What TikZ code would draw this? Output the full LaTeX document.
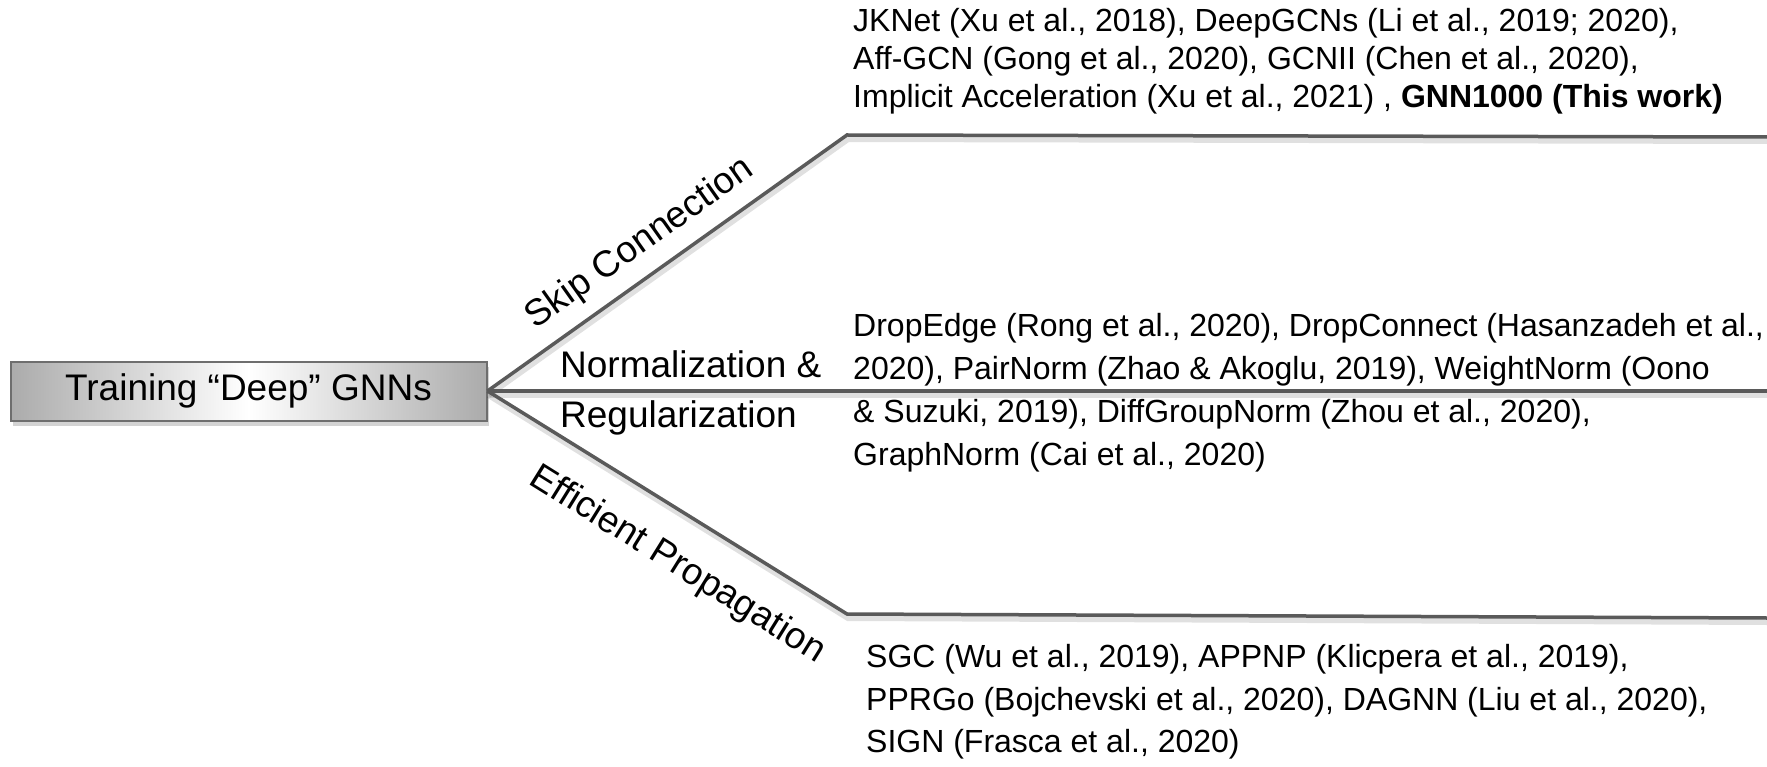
\documentclass[tikz,border=0pt]{standalone}
\usepackage{fontspec}
\setmainfont{Liberation Sans}
\usetikzlibrary{shadows}
\definecolor{branch}{HTML}{5A5A5A}
\definecolor{boxedge}{HTML}{6E6E6E}
\definecolor{boxside}{HTML}{ABABAB}
\begin{document}
\begin{tikzpicture}[x=1pt,y=-1pt,
  rootbox/.style={draw=boxedge, line width=2pt, minimum width=476pt, minimum height=59pt,
    inner sep=0pt, left color=boxside, right color=boxside, middle color=white,
    drop shadow={shadow xshift=2pt,shadow yshift=-5pt,opacity=0.35},
    font=\fontsize{37}{44}\selectfont},
  branchline/.style={draw=branch, line width=3.5pt, line join=miter},
  branchshadow/.style={draw=black, opacity=0.12, line width=6pt},
  catlabel/.style={font=\fontsize{37}{44}\selectfont, inner sep=0pt},
  citeline/.style={anchor=base west, inner sep=0pt, font=\fontsize{32}{38}\selectfont}
]
\useasboundingbox (0,0) rectangle (1767,767);

% root of the tree
\node[rootbox] (root) at (248.5,391) {Training “Deep” GNNs};

% bends and free ends of the three branches
\coordinate (skipbend) at (847,135);
\coordinate (skipend)  at (1767,137);
\coordinate (normend)  at (1767,391);
\coordinate (effbend)  at (847,614);
\coordinate (effend)   at (1767,618);

% soft shadows under the branches
\draw[branchshadow] ([shift={(1,4)}]root.east) -- ([shift={(1,4)}]skipbend) -- ([shift={(0,4)}]skipend);
\draw[branchshadow] ([shift={(1,4)}]root.east) -- ([shift={(0,4)}]normend);
\draw[branchshadow] ([shift={(1,4)}]root.east) -- ([shift={(1,4)}]effbend) -- ([shift={(0,4)}]effend);

% branches
\draw[branchline] (root.east) -- (skipbend) -- (skipend);
\draw[branchline] (root.east) -- (normend);
\draw[branchline] (root.east) -- (effbend) -- (effend);

% branch labels
\node[catlabel, rotate=35.3] (skiplbl) at (640,244) {Skip Connection};
\node[catlabel, anchor=base west] (normlbl) at (560,377) {Normalization \&};
\node[catlabel, anchor=base west] (reglbl) at (560,427) {Regularization};
\node[catlabel, rotate=-31.9] (efflbl) at (677,565) {Efficient Propagation};

% skip connection methods
\node[citeline] (skipa) at (853,32)  {JKNet (Xu et al., 2018), DeepGCNs (Li et al., 2019; 2020),};
\node[citeline] (skipb) at (853,70)  {Aff-GCN (Gong et al., 2020), GCNII (Chen et al., 2020),};
\node[citeline] (skipc) at (853,108) {Implicit Acceleration (Xu et al., 2021) , \textbf{GNN1000 (This work)}};

% normalization and regularization methods
\node[citeline] (norma) at (853,336) {DropEdge (Rong et al., 2020), DropConnect (Hasanzadeh et al.,};
\node[citeline] (normb) at (853,379) {2020), PairNorm (Zhao \& Akoglu, 2019), WeightNorm (Oono};
\node[citeline] (normc) at (853,422) {\& Suzuki, 2019), DiffGroupNorm (Zhou et al., 2020),};
\node[citeline] (normd) at (853,465) {GraphNorm (Cai et al., 2020)};

% efficient propagation methods
\node[citeline] (effa) at (866,667) {SGC (Wu et al., 2019), APPNP (Klicpera et al., 2019),};
\node[citeline] (effb) at (866,710) {PPRGo (Bojchevski et al., 2020), DAGNN (Liu et al., 2020),};
\node[citeline] (effc) at (866,752) {SIGN (Frasca et al., 2020)};
\end{tikzpicture}
\end{document}
